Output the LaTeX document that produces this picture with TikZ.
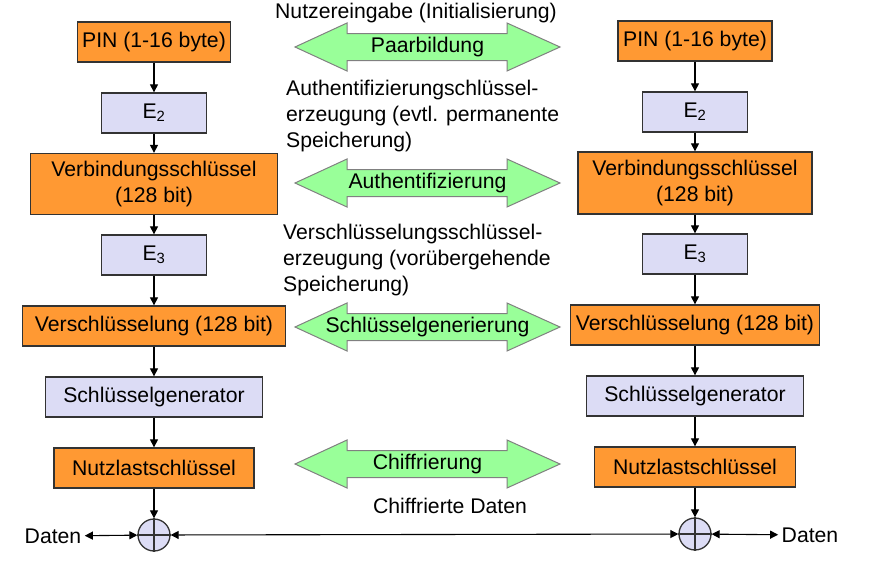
\documentclass[tikz,border=0pt]{standalone}
\usepackage{fontspec}
\setmainfont{Liberation Sans}
\usetikzlibrary{positioning,arrows.meta}

\definecolor{keyorange}{RGB}{255,153,51}
\definecolor{funclilac}{RGB}{220,220,245}
\definecolor{pairgreen}{RGB}{153,255,153}

\begin{document}
\begin{tikzpicture}[
    x=1pt,y=-1pt,
    >={Triangle[length=8pt,width=8pt]},
    node distance=71pt,
    every node/.style={font=\fontsize{21.2}{26}\selectfont},
    keybox/.style={draw=black!80,line width=1.3pt,fill=keyorange,minimum height=40pt,inner sep=2pt,align=center},
    funcbox/.style={draw=black!80,line width=1.3pt,fill=funclilac,minimum height=40pt,inner sep=2pt},
    xorsum/.style={circle,draw=black!80,line width=1.3pt,fill=funclilac,minimum size=32pt,inner sep=0pt},
    flow/.style={->,line width=1.1pt},
    pairarrow/.style={draw=black!50,line width=1pt,fill=pairgreen},
    note/.style={align=left,anchor=west,inner sep=0pt}
]
\useasboundingbox (0,0) rectangle (873,573);

% left device
\node[keybox,minimum width=153pt] (pinL) at (154,42) {PIN (1-16 byte)};
\node[funcbox,minimum width=105pt,below of=pinL] (etwoL) {E\textsubscript{2}};
\node[keybox,minimum width=247pt,minimum height=61pt,below of=etwoL] (verbL) {Verbindungsschlüssel\\(128 bit)};
\node[funcbox,minimum width=105pt,below of=verbL] (edreiL) {E\textsubscript{3}};
\node[keybox,minimum width=263pt,below of=edreiL] (verschL) {Verschlüsselung (128 bit)};
\node[funcbox,minimum width=217pt,below of=verschL] (gensL) {Schlüsselgenerator};
\node[keybox,minimum width=200pt,below of=gensL] (nutzL) {Nutzlastschlüssel};
\node[xorsum,node distance=67pt,below of=nutzL] (xorL) {};
\node (datenL) at (53,536) {Daten};

% right device
\node[keybox,minimum width=154pt] (pinR) at (695,41) {PIN (1-16 byte)};
\node[funcbox,minimum width=105pt,below of=pinR] (etwoR) {E\textsubscript{2}};
\node[keybox,minimum width=234pt,minimum height=62pt,below of=etwoR] (verbR) {Verbindungsschlüssel\\(128 bit)};
\node[funcbox,minimum width=105pt,below of=verbR] (edreiR) {E\textsubscript{3}};
\node[keybox,minimum width=249pt,below of=edreiR] (verschR) {Verschlüsselung (128 bit)};
\node[funcbox,minimum width=217pt,below of=verschR] (gensR) {Schlüsselgenerator};
\node[keybox,minimum width=201pt,below of=gensR] (nutzR) {Nutzlastschlüssel};
\node[xorsum,node distance=67pt,below of=nutzR] (xorR) {};
\node (datenR) at (810,535) {Daten};

% texts between the devices
\node (initT) at (416,13) {Nutzereingabe (Initialisierung)};
\node[note] (authT) at (286,116) {Authentifizierungschlüssel-\\erzeugung (evtl. permanente\\Speicherung)};
\node[note] (verschT) at (283,260) {Verschlüsselungsschlüssel-\\erzeugung (vorübergehende\\Speicherung)};
\node (chiffT) at (450,506) {Chiffrierte Daten};

% green double arrows
\foreach \y/\lbl [count=\i] in {47/Paarbildung,183/Authentifizierung,327/Schlüsselgenerierung,464/Chiffrierung}{
    \draw[pairarrow] (295,\y) -- (347,\y-24) -- (347,\y-13.5) -- (507,\y-13.5) -- (507,\y-24)
        -- (560,\y) -- (507,\y+24) -- (507,\y+13.5) -- (347,\y+13.5) -- (347,\y+24) -- cycle;
    \node (pair\i) at (427.5,\y) {\lbl};
}

% key flow
\draw[flow] (pinL) -- (etwoL);
\draw[flow] (etwoL) -- (verbL);
\draw[flow] (verbL) -- (edreiL);
\draw[flow] (edreiL) -- (verschL);
\draw[flow] (verschL) -- (gensL);
\draw[flow] (gensL) -- (nutzL);
\draw[flow] (nutzL) -- (xorL);

\draw[flow] (pinR) -- (etwoR);
\draw[flow] (etwoR) -- (verbR);
\draw[flow] (verbR) -- (edreiR);
\draw[flow] (edreiR) -- (verschR);
\draw[flow] (verschR) -- (gensR);
\draw[flow] (gensR) -- (nutzR);
\draw[flow] (nutzR) -- (xorR);

% xor crosses
\draw[line width=1.3pt,draw=black!80]
(xorL.north) -- (xorL.south)
(xorL.west) -- (xorL.east);
\draw[line width=1.3pt,draw=black!80]
(xorR.north) -- (xorR.south)
(xorR.west) -- (xorR.east);

% data
\draw[<->,line width=1.1pt] (datenL) -- (xorL);
\draw[<->,line width=1.1pt] (xorL) -- (xorR);
\draw[<->,line width=1.1pt] (xorR) -- (datenR);

\end{tikzpicture}
\end{document}
